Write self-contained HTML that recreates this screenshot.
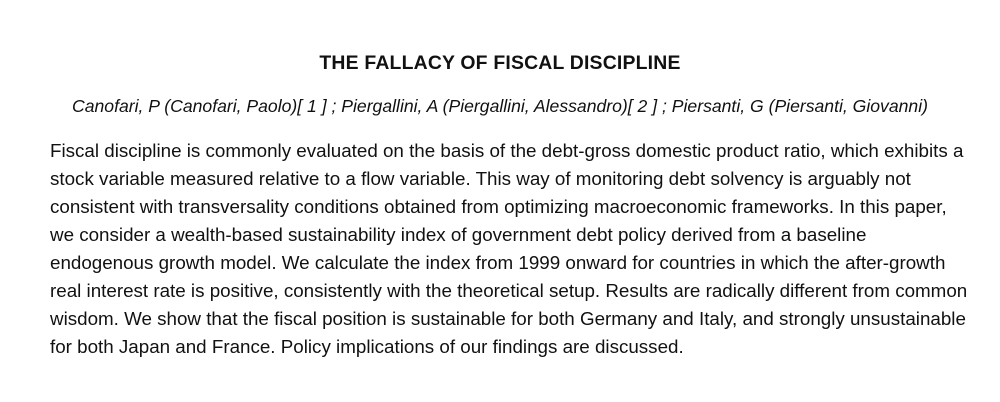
<!DOCTYPE html>
<html>
<head>
<meta charset="utf-8">
<style>
  html, body { margin: 0; padding: 0; background: #fff; }
  body { width: 1000px; height: 402px; position: relative; overflow: hidden;
         font-family: "Liberation Sans", "DejaVu Sans", sans-serif; color: #111; }
  .title { position: absolute; top: 52px; left: 0; width: 1000px; text-align: center;
           font-weight: bold; font-size: 19.4px; letter-spacing: 0.2px; }
  .authors { position: absolute; top: 96px; left: 0; width: 1000px; text-align: center;
             font-style: italic; font-size: 17.6px; }
  .abstract { position: absolute; top: 137px; left: 50px; width: 940px;
              font-size: 18.8px; line-height: 28px; }
  .abstract div { white-space: nowrap; }
</style>
</head>
<body>
  <div class="title">THE FALLACY OF FISCAL DISCIPLINE</div>
  <div class="authors">Canofari, P (Canofari, Paolo)[ 1 ] ; Piergallini, A (Piergallini, Alessandro)[ 2 ] ; Piersanti, G (Piersanti, Giovanni)</div>
  <div class="abstract">
    <div>Fiscal discipline is commonly evaluated on the basis of the debt-gross domestic product ratio, which exhibits a</div>
    <div>stock variable measured relative to a flow variable. This way of monitoring debt solvency is arguably not</div>
    <div>consistent with transversality conditions obtained from optimizing macroeconomic frameworks. In this paper,</div>
    <div>we consider a wealth-based sustainability index of government debt policy derived from a baseline</div>
    <div>endogenous growth model. We calculate the index from 1999 onward for countries in which the after-growth</div>
    <div>real interest rate is positive, consistently with the theoretical setup. Results are radically different from common</div>
    <div>wisdom. We show that the fiscal position is sustainable for both Germany and Italy, and strongly unsustainable</div>
    <div>for both Japan and France. Policy implications of our findings are discussed.</div>
  </div>
</body>
</html>
